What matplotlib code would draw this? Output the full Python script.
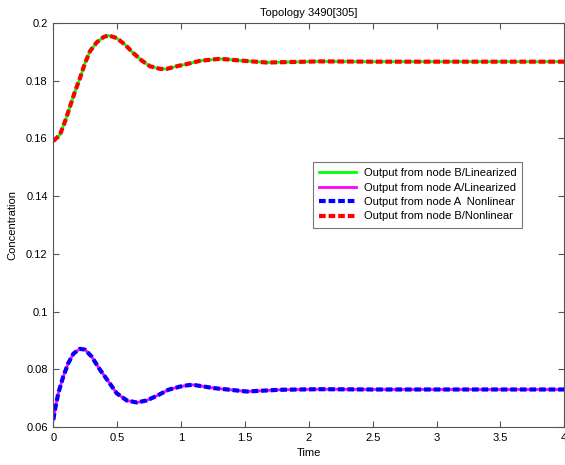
import matplotlib
matplotlib.use("Agg")
import matplotlib.pyplot as plt

plt.rcParams['font.family'] = ['Liberation Sans', 'DejaVu Sans']

# values
tB = [0.0, 0.005, 0.052, 0.092, 0.131, 0.170, 0.209, 0.248, 0.287, 0.34,
      0.392, 0.431, 0.496, 0.561, 0.626, 0.692, 0.757, 0.836, 0.888, 0.966,
      1.057, 1.149, 1.305, 1.462, 1.671, 1.877, 2.088, 2.5, 3.0, 3.5, 4.0]
nodeB = [0.1592, 0.1593, 0.1613, 0.1659, 0.1711, 0.1763, 0.1809, 0.1861,
         0.1902, 0.1933, 0.1951, 0.1957, 0.1948, 0.1925, 0.1896, 0.1870,
         0.1850, 0.1841, 0.1841, 0.1850, 0.1859, 0.1869, 0.1876, 0.1870,
         0.1863, 0.1865, 0.1867, 0.1866, 0.1866, 0.1866, 0.1866]

tA = [0.0, 0.013, 0.039, 0.078, 0.117, 0.157, 0.209, 0.248, 0.3, 0.366,
      0.431, 0.496, 0.575, 0.653, 0.731, 0.81, 0.901, 0.992, 1.057, 1.096,
      1.253, 1.514, 1.775, 2.088, 2.5, 3.0, 3.5, 4.0]
nodeA = [0.0625, 0.0660, 0.0717, 0.0775, 0.0821, 0.0854, 0.0871, 0.0868,
         0.0844, 0.0798, 0.0758, 0.0717, 0.0692, 0.0685, 0.0692, 0.0708,
         0.0729, 0.0740, 0.0745, 0.0746, 0.0735, 0.0723, 0.0729, 0.0731,
         0.0730, 0.0730, 0.0730, 0.0730]

xticks = [0, 0.5, 1, 1.5, 2, 2.5, 3, 3.5, 4]
xticklabels = ['0', '0.5', '1', '1.5', '2', '2.5', '3', '3.5', '4']
yticks = [0.06, 0.08, 0.1, 0.12, 0.14, 0.16, 0.18, 0.2]
yticklabels = ['0.06', '0.08', '0.1', '0.12', '0.14', '0.16', '0.18', '0.2']

fig = plt.figure(figsize=(5.65, 4.65), dpi=100)
ax = fig.add_axes([53.3 / 565, (465 - 427) / 465, 511 / 565, 404 / 465])

dash = (0, (1.6, 0.7))
ax.plot(tB, nodeB, color='#00ff00', lw=2, label='Output from node B/Linearized')
ax.plot(tA, nodeA, color='#ff00ff', lw=2, label='Output from node A/Linearized')
ax.plot(tA, nodeA, color='#0000ff', lw=3, ls=dash,
        label='Output from node A  Nonlinear')
ax.plot(tB, nodeB, color='#ff0000', lw=3, ls=dash,
        label='Output from node B/Nonlinear')

ax.set_xlim(0, 4)
ax.set_ylim(0.06, 0.2)
ax.set_xticks(xticks)
ax.set_xticklabels(xticklabels)
ax.set_yticks(yticks)
ax.set_yticklabels(yticklabels)
ax.tick_params(direction='in', top=True, right=True, labelsize=8,
               length=4, color='#555555', pad=4)
for s in ax.spines.values():
    s.set_color('#555555')
    s.set_linewidth(0.8)

ax.set_title('Topology 3490[305]', fontsize=8, pad=5)
ax.set_xlabel('Time', fontsize=8, labelpad=4)
ax.set_ylabel('Concentration', fontsize=8, labelpad=6)

leg = ax.legend(loc='upper left', bbox_to_anchor=((313 - 53.3) / 511, (427 - 162) / 404),
                fontsize=8, frameon=True, fancybox=False, handlelength=3.3,
                borderpad=0.55, labelspacing=0.4, handletextpad=0.7,
                borderaxespad=0)
leg.get_frame().set_edgecolor('#555555')
leg.get_frame().set_linewidth(0.8)

fig.savefig('out.png', dpi=100)
